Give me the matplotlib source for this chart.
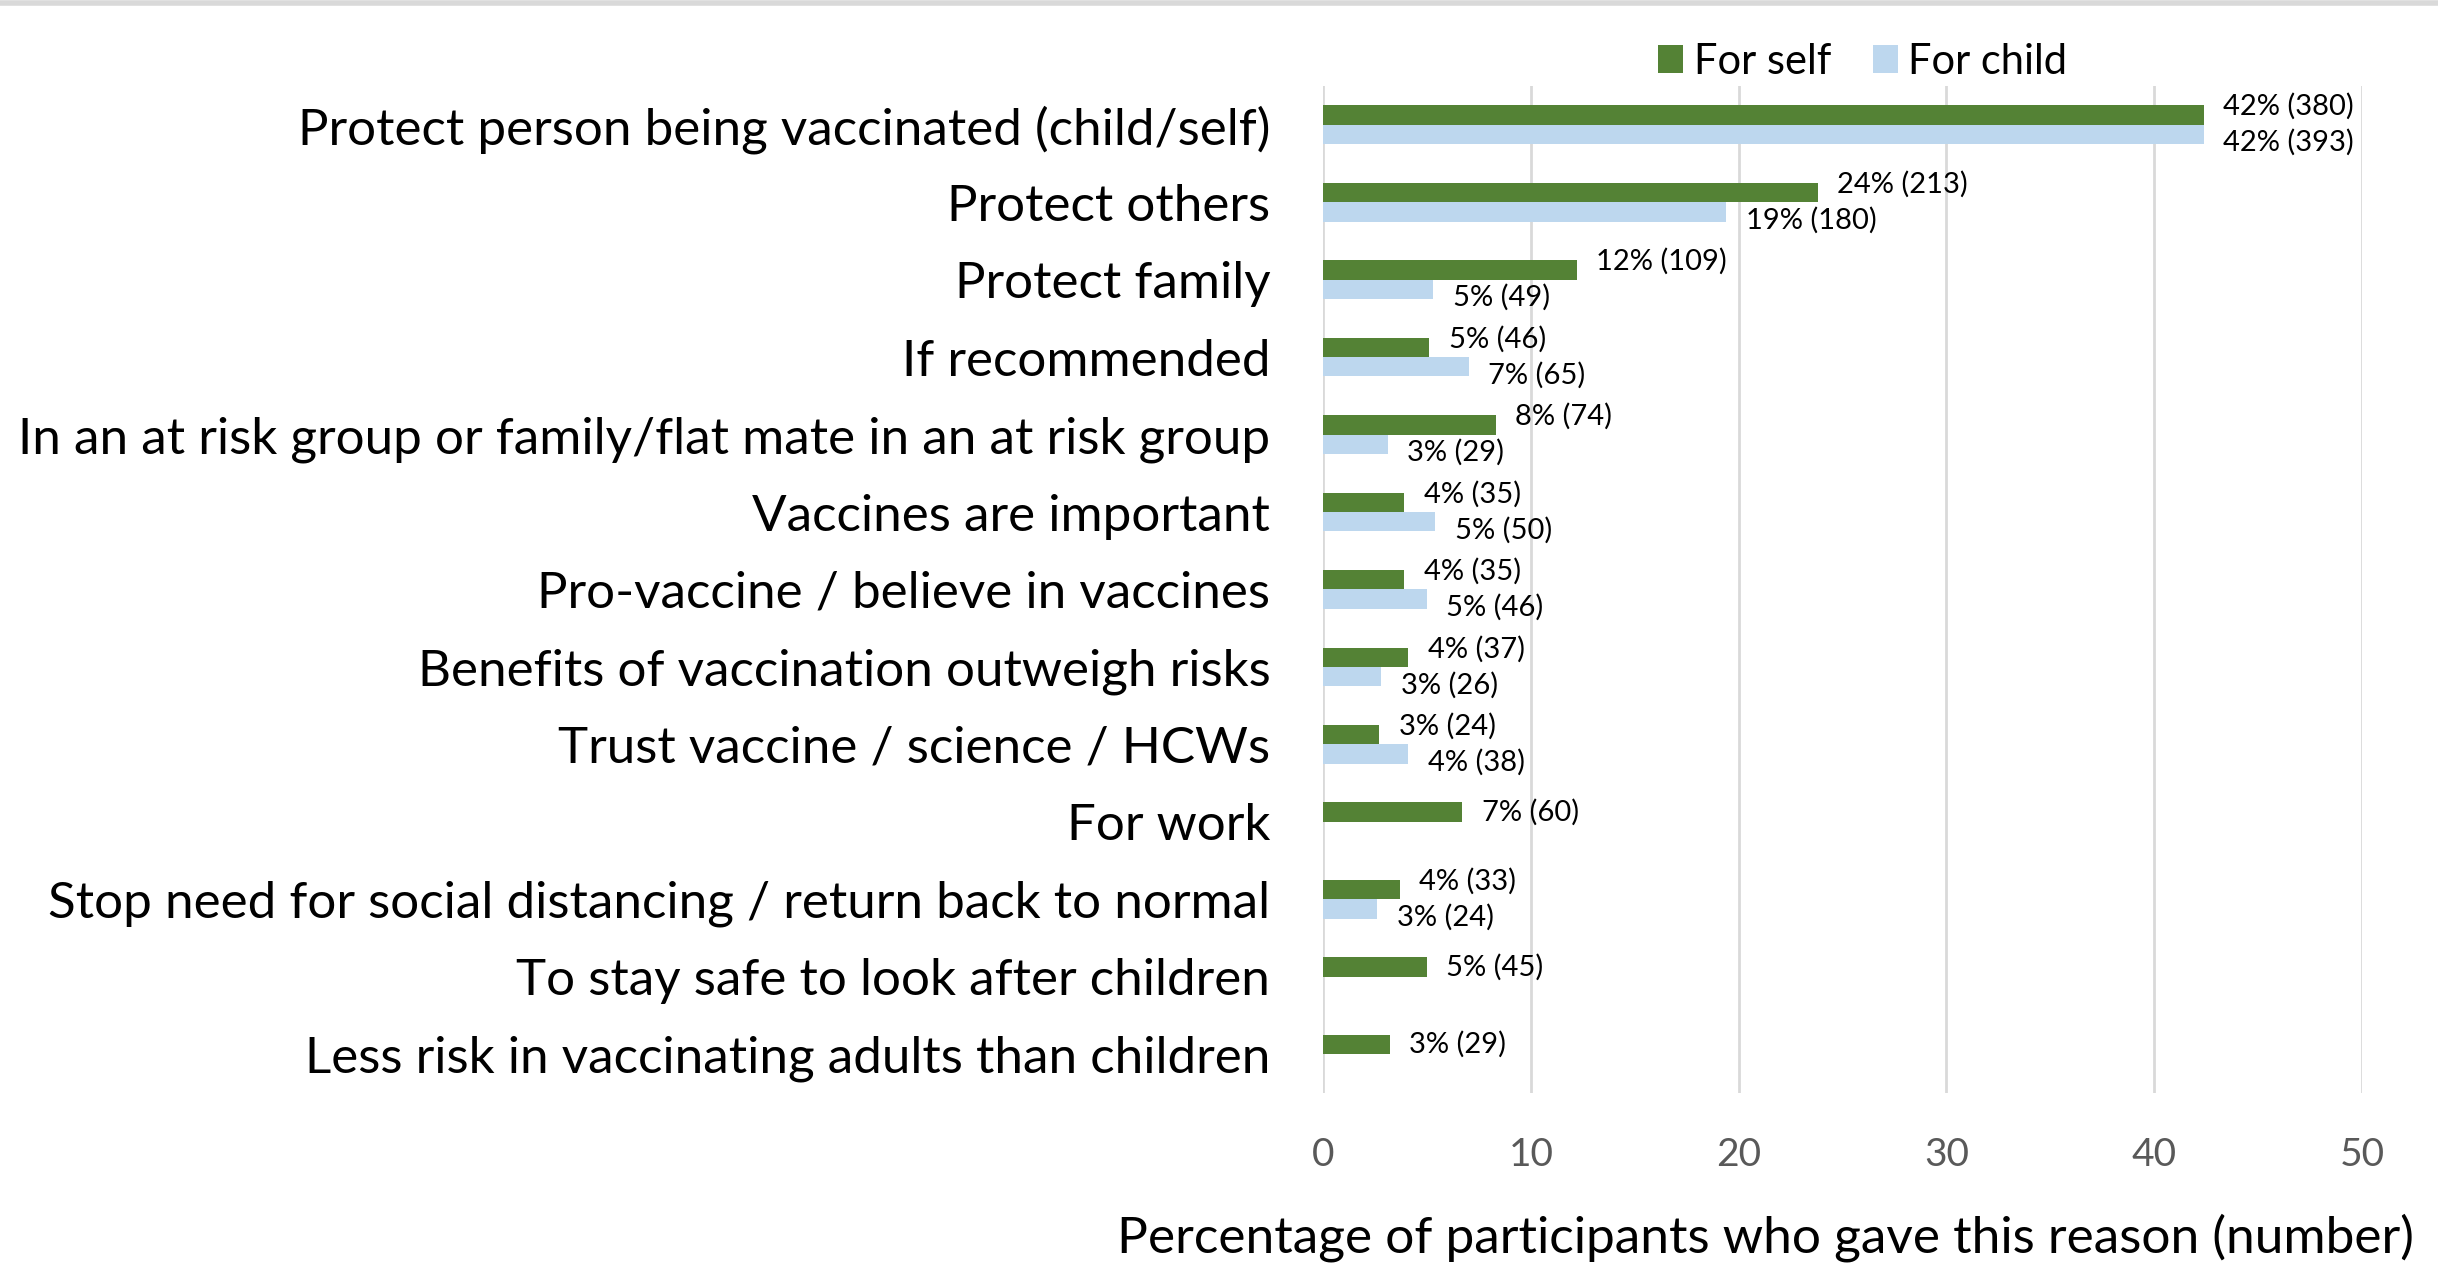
import numpy as np
import matplotlib.pyplot as plt
from matplotlib.lines import Line2D

plt.rcParams['font.family'] = ['Lato', 'DejaVu Sans']

reasons = [
    "Protect person being vaccinated (child/self)",
    "Protect others",
    "Protect family",
    "If recommended",
    "In an at risk group or family/flat mate in an at risk group",
    "Vaccines are important",
    "Pro-vaccine / believe in vaccines",
    "Benefits of vaccination outweigh risks",
    "Trust vaccine / science / HCWs",
    "For work",
    "Stop need for social distancing / return back to normal",
    "To stay safe to look after children",
    "Less risk in vaccinating adults than children",
]

# percentages
self_pct = [42.4, 23.8, 12.2, 5.1, 8.3, 3.9, 3.9, 4.1, 2.7, 6.7, 3.7, 5.0, 3.2]
child_pct = [42.4, 19.4, 5.3, 7.0, 3.1, 5.4, 5.0, 2.8, 4.1, None, 2.6, None, None]

# label text
self_labels = ["42% (380)", "24% (213)", "12% (109)", "5% (46)", "8% (74)", "4% (35)",
               "4% (35)", "4% (37)", "3% (24)", "7% (60)", "4% (33)", "5% (45)", "3% (29)"]
child_labels = ["42% (393)", "19% (180)", "5% (49)", "7% (65)", "3% (29)", "5% (50)",
                "5% (46)", "3% (26)", "4% (38)", None, "3% (24)", None, None]

green = "#548235"
blue = "#BDD7EE"
grid_col = "#D9D9D9"

fig = plt.figure(figsize=(24.38, 12.65), dpi=100)
ax = fig.add_axes([0.5427, 0.136, 0.4261, 0.796])

y = np.arange(len(reasons))
h = 0.25

self_vals = np.array(self_pct, dtype=float)
child_vals = np.array([np.nan if v is None else v for v in child_pct], dtype=float)

ax.barh(y - h / 2, self_vals, height=h, color=green, label="For self", zorder=3)
ax.barh(y + h / 2, np.nan_to_num(child_vals), height=h, color=blue, label="For child", zorder=3)

for i in range(len(reasons)):
    has_child = child_labels[i] is not None
    dy = 6 if has_child else 0
    ax.annotate(self_labels[i], (self_vals[i], y[i] - h / 2), xytext=(14, dy),
                textcoords="offset points", va="center", ha="left", fontsize=21, color="black")
    if has_child:
        ax.annotate(child_labels[i], (child_vals[i], y[i] + h / 2), xytext=(14, -6),
                    textcoords="offset points", va="center", ha="left", fontsize=21, color="black")

ax.set_xlim(0, 50)
ax.set_ylim(len(reasons) - 0.5, -0.5)
ax.set_xticks([0, 10, 20, 30, 40, 50])
ax.set_yticks(y)
ax.set_yticklabels(reasons, fontsize=36.8)
ax.tick_params(axis="y", length=0, pad=38)
ax.tick_params(axis="x", length=0, pad=32, labelsize=28, labelcolor="#595959")
ax.xaxis.grid(True, color=grid_col, linewidth=2, zorder=0)
for s in ax.spines.values():
    s.set_visible(False)

fig.text(0.724, 0.022, "Percentage of participants who gave this reason (number)",
         ha="center", va="center", fontsize=37)

fig.legend(loc="center", bbox_to_anchor=(0.764, 0.951), ncol=2, frameon=False,
           fontsize=30, handlelength=0.6, handleheight=0.65, handletextpad=0.25,
           columnspacing=1.0)

fig.add_artist(Line2D([0, 1], [0.9975, 0.9975], transform=fig.transFigure,
                      color=grid_col, linewidth=4))

fig.savefig("out.png", dpi=100, facecolor="white")
